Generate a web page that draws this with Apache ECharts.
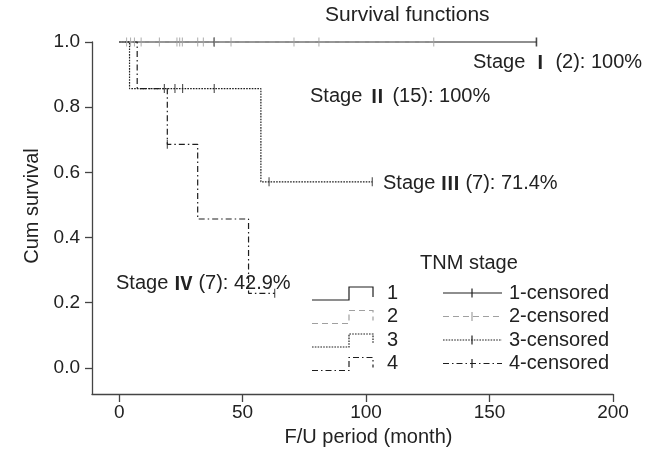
<!DOCTYPE html>
<html>
<head>
<meta charset="utf-8">
<script src="https://cdn.jsdelivr.net/npm/echarts@6/dist/echarts.min.js"></script>
<style>
html,body{margin:0;padding:0;background:#fff;}
#chart{width:670px;height:461px;}
</style>
</head>
<body>
<div id="chart"></div>
<script>
// ---- data ----
const xTicks = [0, 50, 100, 150, 200];
const yTicks = [0, 0.2, 0.4, 0.6, 0.8, 1.0];

const stage1Times = [0, 169];
const stage1Surv = [1, 1];
const stage1CensorT = [38.5, 169];
const stage1CensorS = [1, 1];

const stage2Times = [0, 127.4];
const stage2Surv = [1, 1];
const stage2CensorT = [3.0, 4.6, 6.2, 8.9, 16.3, 23.4, 24.5, 25.6, 31.8, 34.1, 38.5, 45.3, 70.8, 80.9, 127.4];
const stage2CensorS = [1, 1, 1, 1, 1, 1, 1, 1, 1, 1, 1, 1, 1, 1, 1];

const stage3Times = [0, 4.2, 57.4, 102.5];
const stage3Surv = [1, 0.857, 0.571, 0.571];
const stage3CensorT = [22.6, 25.7, 38.5, 60.7, 102.5];
const stage3CensorS = [0.857, 0.857, 0.857, 0.571, 0.571];

const stage4Times = [0, 7.3, 19.5, 31.8, 52.4, 63];
const stage4Surv = [1, 0.857, 0.686, 0.457, 0.229, 0.229];
const stage4CensorT = [18.3, 19.5, 63];
const stage4CensorS = [0.857, 0.686, 0.229];

const stageNumerals = ['\u2160', '\u2161', '\u2162', '\u2163'];
const stageTails = [' (2): 100%', ' (15): 100%', ' (7): 71.4%', ' (7): 42.9%'];
const legendNames = ['1', '2', '3', '4'];
const legendCensNames = ['1-censored', '2-censored', '3-censored', '4-censored'];

// ---- styles ----
const FONT = '"Liberation Sans", Arial, "DejaVu Sans", sans-serif';
const TXT = '#222';
const BLACK = '#1e1e1e';
const GRAY = '#a0a0a0';
const styles = [
  {color: BLACK, type: 'solid', width: 1.2},
  {color: GRAY, type: [6, 4], width: 1.2},
  {color: BLACK, type: [1.6, 1.2], width: 1.2},
  {color: BLACK, type: [6, 3, 1.5, 3], width: 1.2}
];

function zip(a, b) { return a.map((v, i) => [v, b[i]]); }

const curves = [
  zip(stage1Times, stage1Surv),
  zip(stage2Times, stage2Surv),
  zip(stage3Times, stage3Surv),
  zip(stage4Times, stage4Surv)
];
const censors = [
  zip(stage1CensorT, stage1CensorS),
  zip(stage2CensorT, stage2CensorS),
  zip(stage3CensorT, stage3CensorS),
  zip(stage4CensorT, stage4CensorS)
];

const series = [];
curves.forEach((d, i) => {
  series.push({
    type: 'line', name: legendNames[i], data: d, step: 'end',
    showSymbol: false, clip: false, animation: false,
    lineStyle: {color: styles[i].color, type: styles[i].type, width: styles[i].width},
    z: i === 1 ? 4 : 3
  });
});
censors.forEach((d, i) => {
  series.push({
    type: 'scatter', name: legendCensNames[i], data: d,
    symbol: 'rect', symbolSize: [i === 0 ? 1.6 : 1.1, 9], clip: false, animation: false,
    itemStyle: {color: styles[i].color},
    z: 5
  });
});

// ---- annotations and legend drawn as graphics ----
function txt(x, y, t, size) {
  return {type: 'text', x: x, y: y, style: {text: t, font: (size || 20) + 'px ' + FONT, fill: TXT, verticalAlign: 'middle', align: 'left'}};
}
const graphics = [];
graphics.push(txt(325, 15, 'Survival functions', 21));
const labelPos = [[473, 62], [310, 96], [383, 183], [116, 283]];
stageNumerals.forEach((n, i) => {
  graphics.push({
    type: 'text', x: labelPos[i][0], y: labelPos[i][1],
    style: {
      text: 'Stage {r|' + n + '}' + stageTails[i],
      font: '20px ' + FONT, fill: TXT, verticalAlign: 'middle', align: 'left',
      rich: {r: {fontFamily: '"Noto Sans CJK KR", "Noto Sans CJK SC", sans-serif', fontSize: 19, fontWeight: 'bold', fill: TXT}}
    }
  });
});
graphics.push(txt(420, 263, 'TNM stage'));
const rowY = [293, 316.5, 340, 363.5];
rowY.forEach((y, i) => {
  const st = styles[i];
  const dash = Array.isArray(st.type) ? st.type : null;
  graphics.push({type: 'polyline', shape: {points: [[312, y + 7], [349, y + 7], [349, y - 6], [373, y - 6], [373, y + 4]]},
    style: {stroke: st.color, lineWidth: 1.2, lineDash: dash, fill: null}});
  graphics.push(txt(387, y, legendNames[i]));
  graphics.push({type: 'line', shape: {x1: 443, y1: y, x2: 502, y2: y}, style: {stroke: st.color, lineWidth: 1.2, lineDash: dash}});
  graphics.push({type: 'line', shape: {x1: 472, y1: y - 4.5, x2: 472, y2: y + 4.5}, style: {stroke: st.color, lineWidth: 1.2}});
  graphics.push(txt(509, y, legendCensNames[i]));
});

const axisColor = '#444';
const option = {
  backgroundColor: '#fff',
  animation: false,
  grid: {left: 92, right: 57, top: 42, bottom: 67, containLabel: false},
  xAxis: {
    type: 'value', min: -11, max: 200,
    name: 'F/U period (month)', nameLocation: 'middle', nameGap: 33,
    nameTextStyle: {fontFamily: FONT, fontSize: 20, color: TXT, padding: [0, 0, 0, 32]},
    axisLine: {show: true, onZero: false, lineStyle: {color: axisColor, width: 1.3}},
    axisTick: {show: true, length: 8, lineStyle: {color: axisColor, width: 1.3}, customValues: xTicks},
    axisLabel: {fontFamily: FONT, fontSize: 19, color: TXT, margin: 9, customValues: xTicks},
    splitLine: {show: false}
  },
  yAxis: {
    type: 'value', min: -0.08, max: 1.0,
    name: 'Cum survival', nameLocation: 'middle', nameGap: 47,
    nameTextStyle: {fontFamily: FONT, fontSize: 20, color: TXT, padding: [0, 0, 0, 24]},
    axisLine: {show: true, onZero: false, lineStyle: {color: axisColor, width: 1.3}},
    axisTick: {show: true, length: 7, lineStyle: {color: axisColor, width: 1.3}, customValues: yTicks},
    axisLabel: {fontFamily: FONT, fontSize: 19, color: TXT, margin: 12, customValues: yTicks,
      formatter: v => v.toFixed(1)},
    splitLine: {show: false}
  },
  series: series,
  graphic: graphics
};

const chart = echarts.init(document.getElementById('chart'), null, {renderer: 'canvas'});
chart.setOption(option);
</script>
</body>
</html>
